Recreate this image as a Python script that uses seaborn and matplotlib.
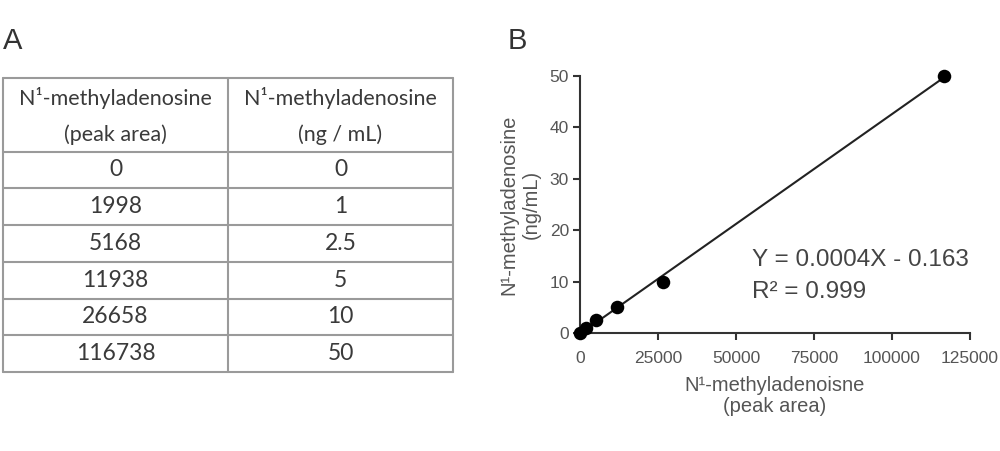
import matplotlib
matplotlib.use("Agg")
import matplotlib.pyplot as plt
import seaborn as sns
import numpy as np
import pandas as pd

# ---- data ----
peak_area = [0, 1998, 5168, 11938, 26658, 116738]
conc_ng_ml = [0, 1, 2.5, 5, 10, 50]
conc_labels = ["0", "1", "2.5", "5", "10", "50"]
col_headers = [["N\u00b9-methyladenosine", "(peak area)"],
               ["N\u00b9-methyladenosine", "(ng / mL)"]]
x_ticks = [0, 25000, 50000, 75000, 100000, 125000]
y_ticks = [0, 10, 20, 30, 40, 50]
eq_text = "Y = 0.0004X - 0.163"
r2_text = "R\u00b2 = 0.999"

sns.set_theme(style="white")
plt.rcParams["font.family"] = ["Liberation Sans", "DejaVu Sans"]

fig = plt.figure(figsize=(10, 4.51), dpi=100)

# ---- panel A: table ----
tcol = "#3a3a3a"
gcol = "#9a9a9a"
axA = fig.add_axes([0.003, 1 - 372 / 451, 0.450, (372 - 78) / 451])
axA.set_xlim(0, 2)
axA.set_ylim(8, 0)
axA.axis("off")
nrows = len(peak_area)
for yy in [0, 2] + [2 + i + 1 for i in range(nrows)]:
    axA.plot([0, 2], [yy, yy], color=gcol, lw=1.5, clip_on=False)
for xx in [0, 1, 2]:
    axA.plot([xx, xx], [0, 2 + nrows], color=gcol, lw=1.5, clip_on=False)
hfont = dict(family=["Lato", "DejaVu Sans"], fontsize=15.5, color=tcol,
             ha="center", va="center")
nfont = dict(family=["Lato", "DejaVu Sans"], fontsize=16.5, color=tcol,
             ha="center", va="center")
for c, hdr in enumerate(col_headers):
    axA.text(c + 0.5, 0.55, hdr[0], **hfont)
    axA.text(c + 0.5, 1.55, hdr[1], **hfont)
for i in range(nrows):
    axA.text(0.5, 2.5 + i, str(peak_area[i]), **nfont)
    axA.text(1.5, 2.5 + i, conc_labels[i], **nfont)
fig.text(0.003, 1 - 41 / 451, "A", fontsize=21, color="#333333",
         family=["Liberation Sans"], va="center", ha="left")

# ---- panel B: calibration curve ----
axB = fig.add_axes([0.580, 1 - 333 / 451, 0.390, (333 - 76) / 451])
df = pd.DataFrame({"area": peak_area, "conc": conc_ng_ml})
sns.regplot(data=df, x="area", y="conc", ax=axB, ci=None, truncate=True,
            scatter_kws=dict(s=95, color="black", clip_on=False, zorder=3,
                             linewidths=0, alpha=1),
            line_kws=dict(color="#222222", lw=1.5, zorder=2))
axB.set_xlim(0, 125000)
axB.set_ylim(0, 50)
axB.set_xticks(x_ticks)
axB.set_yticks(y_ticks)
for s in ["top", "right"]:
    axB.spines[s].set_visible(False)
for s in ["left", "bottom"]:
    axB.spines[s].set_color("#333333")
    axB.spines[s].set_linewidth(1.5)
axB.tick_params(axis="both", direction="out", length=5, width=1.5,
                color="#333333", labelcolor="#555555", labelsize=12.5,
                bottom=True, left=True)
axB.tick_params(axis="x", pad=8)
axB.tick_params(axis="y", pad=3)
axB.set_xlabel("N\u00b9-methyladenoisne\n(peak area)", fontsize=14.5,
               color="#555555", labelpad=7, linespacing=1.15)
axB.set_ylabel("N\u00b9-methyladenosine\n(ng/mL)", fontsize=14.5,
               color="#555555", labelpad=6, linespacing=1.25)
axB.text(0.44, 0.284, eq_text, transform=axB.transAxes, fontsize=17.5,
         color="#444444", ha="left", va="center")
axB.text(0.44, 0.16, r2_text, transform=axB.transAxes, fontsize=17.5,
         color="#444444", ha="left", va="center")
fig.text(0.508, 1 - 41 / 451, "B", fontsize=21, color="#333333",
         va="center", ha="left")

fig.savefig("out.png", dpi=100, facecolor="white")
